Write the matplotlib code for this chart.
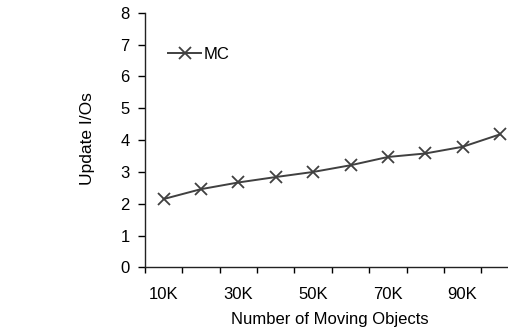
import numpy as np
import matplotlib.pyplot as plt

plt.rcParams['font.family'] = ['Liberation Sans', 'DejaVu Sans']

# update cost per object count (10K .. 100K)
objects = ['10K', '20K', '30K', '40K', '50K', '60K', '70K', '80K', '90K', '100K']
mc_ios = [2.15, 2.46, 2.67, 2.84, 3.00, 3.21, 3.47, 3.58, 3.79, 4.18]

fig = plt.figure(figsize=(5.08, 3.32), dpi=100)
ax = fig.add_axes([0.2854, 0.1943, 0.7356, 0.7674])

x = np.arange(len(objects))
ax.plot(x, mc_ios, color='#404040', lw=1.4, marker='x', ms=8, mew=1.3, label='MC')

# category-style axis: ticks between categories, every other label shown
ax.set_xlim(-0.5, len(objects) - 0.5)
ax.set_xticks(np.arange(len(objects) + 1) - 0.5)
ax.set_xticklabels([])
ax.set_xticks(x[::2], minor=True)
ax.set_xticklabels(objects[::2], minor=True)
ax.tick_params(axis='x', which='minor', length=0, pad=14, labelsize=12)
ax.tick_params(axis='x', which='major', direction='out', length=4, width=1)

ax.set_ylim(0, 8)
ax.set_yticks(range(0, 9))
ax.tick_params(axis='y', direction='out', length=5, width=1, labelsize=12, pad=6)

for s in ['top', 'right']:
    ax.spines[s].set_visible(False)
for s in ['left', 'bottom']:
    ax.spines[s].set_linewidth(1)
    ax.spines[s].set_color('#222222')

ax.set_xlabel('Number of Moving Objects', fontsize=12, va='center')
ax.xaxis.set_label_coords(0.495, -0.206)
ax.set_ylabel('Update I/Os', fontsize=12.5, va='center')
ax.yaxis.set_label_coords(-0.1525, 0.505)

ax.legend(loc='center left', bbox_to_anchor=(0.0615, 0.8375), frameon=False,
          borderaxespad=0, borderpad=0, handlelength=2.0, handletextpad=0.12,
          fontsize=12)

fig.savefig('out.png', dpi=100)
